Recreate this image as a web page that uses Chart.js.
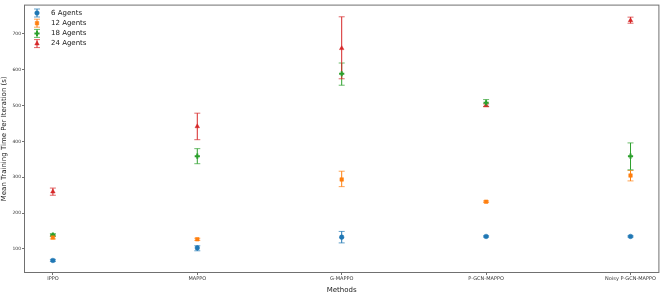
<!DOCTYPE html>
<html>
<head>
<meta charset="utf-8">
<script src="https://cdn.jsdelivr.net/npm/chart.js@4"></script>
<style>
  html, body { margin: 0; padding: 0; background: #fff; }
  #wrap { width: 664px; height: 294px; }
</style>
</head>
<body>
<div id="wrap"><canvas id="chart"></canvas></div>
<script>
// Mean training time per iteration, with error bars

const methods = ['IPPO', 'MAPPO', 'G-MAPPO', 'P-GCN-MAPPO', 'Noisy P-GCN-MAPPO']
const yTicks = [100, 200, 300, 400, 500, 600, 700]

const agents6 = [68, 103, 133, 135, 135]
const agents6Lo = [65, 95, 117, 133, 133]
const agents6Hi = [71, 109, 149, 137, 137]

const agents12 = [132, 127, 294, 232, 305]
const agents12Lo = [128, 124, 274, 230, 290]
const agents12Hi = [136, 130, 317, 234, 319]

const agents18 = [139, 359, 589, 508, 359]
const agents18Lo = [135, 338, 557, 498, 321]
const agents18Hi = [143, 380, 619, 517, 396]

const agents24 = [260, 442, 660, 501, 738]
const agents24Lo = [250, 405, 575, 497, 730]
const agents24Hi = [270, 479, 748, 505, 747]

const colors = ['#1f77b4', '#ff7f0e', '#2ca02c', '#d62728']
const font = "'DejaVu Sans', sans-serif"

function pts(vals) {
  return vals.map((v, i) => ({ x: i, y: v }))
}

const series = [
  { label: '6 Agents', data: agents6, lo: agents6Lo, hi: agents6Hi, style: 'circle', r: 2.3 },
  { label: '12 Agents', data: agents12, lo: agents12Lo, hi: agents12Hi, style: 'rect', r: 2.5 },
  { label: '18 Agents', data: agents18, lo: agents18Lo, hi: agents18Hi, style: 'cross', r: 2.6 },
  { label: '24 Agents', data: agents24, lo: agents24Lo, hi: agents24Hi, style: 'triangle', r: 2.6 }
]

// error bars, frame and legend drawn over the scatter
const errorBars = {
  id: 'errorBars',
  beforeDatasetsDraw(chart) {
    const ctx = chart.ctx
    const xs = chart.scales.x, ys = chart.scales.y
    chart.data.datasets.forEach((ds, k) => {
      ctx.save()
      ctx.strokeStyle = ds.borderColor
      ctx.lineWidth = 1
      ds.lo.forEach((lo, i) => {
        const x = xs.getPixelForValue(i)
        const y1 = ys.getPixelForValue(lo), y2 = ys.getPixelForValue(ds.hi[i])
        ctx.globalAlpha = 1
        ctx.beginPath(); ctx.moveTo(x, y1); ctx.lineTo(x, y2); ctx.stroke()
        ctx.globalAlpha = 0.7
        ctx.beginPath()
        ctx.moveTo(x - 3, y1); ctx.lineTo(x + 3, y1)
        ctx.moveTo(x - 3, y2); ctx.lineTo(x + 3, y2)
        ctx.stroke()
      })
      ctx.restore()
    })
  },
  afterDraw(chart) {
    const ctx = chart.ctx
    const a = chart.chartArea
    ctx.save()
    ctx.strokeStyle = '#707070'
    ctx.lineWidth = 1
    ctx.strokeRect(a.left + 0.5, a.top + 0.5, a.right - a.left - 1, a.bottom - a.top - 1)
    // legend
    ctx.font = '7px ' + font
    ctx.textBaseline = 'middle'
    chart.data.datasets.forEach((ds, k) => {
      const x = 37, y = 13 + k * 10.2
      ctx.strokeStyle = ds.borderColor
      ctx.fillStyle = ds.backgroundColor
      ctx.lineWidth = 1
      ctx.globalAlpha = 1
      ctx.beginPath(); ctx.moveTo(x, y - 4); ctx.lineTo(x, y + 4); ctx.stroke()
      ctx.globalAlpha = 0.7
      ctx.beginPath()
      ctx.moveTo(x - 3, y - 4); ctx.lineTo(x + 3, y - 4)
      ctx.moveTo(x - 3, y + 4); ctx.lineTo(x + 3, y + 4)
      ctx.stroke()
      ctx.globalAlpha = 1
      ctx.lineWidth = ds.pointBorderWidth
      Chart.helpers.drawPoint(ctx, {
        pointStyle: ds.pointStyle, radius: ds.pointRadius,
        borderWidth: ds.pointBorderWidth, rotation: 0
      }, x, y)
      ctx.fillStyle = '#222'
      ctx.fillText(ds.label, 51, y)
    })
    ctx.restore()
  }
}

const ctx = document.getElementById('chart').getContext('2d')

const chart = new Chart(ctx, {
  type: 'scatter',
  data: {
    datasets: series.map((s, k) => ({
      label: s.label,
      data: pts(s.data),
      lo: s.lo,
      hi: s.hi,
      borderColor: colors[k],
      backgroundColor: colors[k],
      pointStyle: s.style,
      pointRadius: s.r,
      pointBorderWidth: s.style === 'cross' ? 2 : 0.5,
      pointHoverRadius: s.r
    }))
  },
  options: {
    responsive: true,
    maintainAspectRatio: false,
    animation: false,
    layout: { padding: { left: 0, right: 3, top: 2, bottom: 0 } },
    plugins: {
      legend: { display: false },
      tooltip: { enabled: false }
    },
    scales: {
      x: {
        type: 'linear',
        min: -0.2,
        max: 4.2,
        afterBuildTicks: axis => { axis.ticks = methods.map((m, i) => ({ value: i })) },
        afterFit: axis => { axis.height = 21 },
        ticks: {
          callback: v => methods[v],
          font: { family: font, size: 5 },
          color: '#333',
          padding: 1,
          maxRotation: 0,
          autoSkip: false
        },
        grid: { drawOnChartArea: false, tickLength: 2, color: '#707070' },
        border: { display: false },
        title: {
          display: true,
          text: 'Methods',
          font: { family: font, size: 7 },
          color: '#222',
          padding: { top: 0, bottom: 0 }
        }
      },
      y: {
        min: 33,
        max: 782,
        afterBuildTicks: axis => { axis.ticks = yTicks.map(v => ({ value: v })) },
        afterFit: axis => { axis.width = 24 },
        ticks: {
          font: { family: font, size: 4.5 },
          color: '#333',
          padding: 1
        },
        grid: { drawOnChartArea: false, tickLength: 2, color: '#707070' },
        border: { display: false },
        title: {
          display: true,
          text: 'Mean Training Time Per Iteration (s)',
          font: { family: font, size: 7 },
          color: '#222',
          padding: { top: 0, bottom: 2 }
        }
      }
    }
  },
  plugins: [errorBars]
})
</script>
</body>
</html>
